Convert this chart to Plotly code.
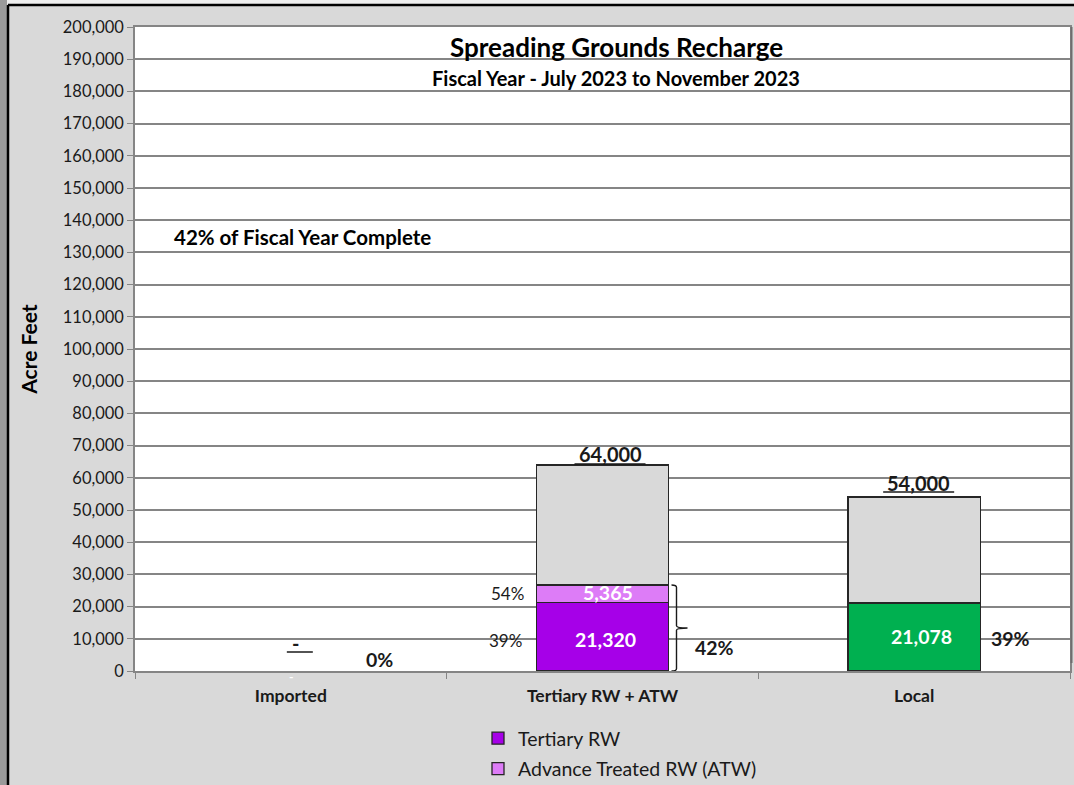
import plotly.graph_objects as go

# ---------------- data ----------------
categories = ["Imported", "Tertiary RW + ATW", "Local"]
tertiary_rw = [0, 21320, 0]
advance_treated_rw = [0, 5365, 0]
local_water = [0, 0, 21078]
fy_target = [0, 64000, 54000]
target_labels = ["-", "64,000", "54,000"]
total_pct_labels = ["0%", "42%", "39%"]
tertiary_pct_label = "39%"
atw_pct_label = "54%"
fiscal_year_note = "42% of Fiscal Year Complete"
y_ticks = list(range(0, 200001, 10000))
y_tick_labels = [f"{v:,}" for v in y_ticks]

remaining = [t - a - b - c for t, a, b, c in zip(fy_target, tertiary_rw, advance_treated_rw, local_water)]

# ---------------- geometry helpers ----------------
W, H = 1074, 785
L, R, T, B = 135, 1070, 27, 671


def px_x(p):
    return (p - L) / (R - L)


def px_y(p):
    return (B - p) / (B - T)


def nz(vals):
    return [v if v else None for v in vals]


FONT = "Lato, 'Open Sans', sans-serif"
TXT = "#1a1a1a"
OUTLINE = dict(color="#262626", width=1.3)

fig = go.Figure()
fig.add_trace(go.Bar(x=categories, y=nz(tertiary_rw), name="Tertiary RW",
                     marker=dict(color="#A600E8", line=OUTLINE), legendgroup="a"))
fig.add_trace(go.Bar(x=categories, y=nz(advance_treated_rw), name="Advance Treated RW (ATW)",
                     marker=dict(color="#DD7CF7", line=OUTLINE), legendgroup="b"))
fig.add_trace(go.Bar(x=categories, y=nz(local_water), name="Local", showlegend=False,
                     marker=dict(color="#00B050", line=OUTLINE)))
fig.add_trace(go.Bar(x=categories, y=nz(remaining), name="Remaining", showlegend=False,
                     marker=dict(color="#D9D9D9", line=OUTLINE)))

ann = []
shapes = []

# target labels with underline
tgt_style = [  # (xshift, yshift of label, underline x0, x1, underline y offset)
    (5, 28, -4, 22, 19),
    (8, 11, -28, 43, 1),
    (4, 14, -31, 40, 5),
]
for i, (cat, tgt, lab) in enumerate(zip(categories, fy_target, target_labels)):
    xs, ys, ux0, ux1, uy = tgt_style[i]
    ann.append(dict(x=cat, y=tgt, text=f"<b>{lab}</b>", showarrow=False, xshift=xs, yshift=ys,
                    font=dict(size=20, color=TXT, family=FONT), yanchor="middle"))
    shapes.append(dict(type="line", xref="x", yref="y", xsizemode="pixel", ysizemode="pixel",
                       xanchor=i, yanchor=tgt, x0=ux0, x1=ux1, y0=uy, y1=uy,
                       line=dict(color="#1a1a1a", width=1.5)))

# value labels inside bars
for i, cat in enumerate(categories):
    if tertiary_rw[i]:
        ann.append(dict(x=cat, y=tertiary_rw[i] / 2, text=f"<b>{tertiary_rw[i]:,}</b>", showarrow=False,
                        xshift=3, yshift=-3, font=dict(size=19.5, color="white", family=FONT)))
        ann.append(dict(x=cat, y=tertiary_rw[i] / 2, text=tertiary_pct_label, showarrow=False,
                        xanchor="right", xshift=-79, yshift=-4, font=dict(size=17, color=TXT, family=FONT)))
    if advance_treated_rw[i]:
        ymid = tertiary_rw[i] + advance_treated_rw[i] / 2
        ann.append(dict(x=cat, y=ymid, text=f"<b>{advance_treated_rw[i]:,}</b>", showarrow=False,
                        xshift=5, yshift=1, font=dict(size=19.5, color="white", family=FONT)))
        ann.append(dict(x=cat, y=ymid, text=atw_pct_label, showarrow=False,
                        xanchor="right", xshift=-77, yshift=0, font=dict(size=17, color=TXT, family=FONT)))
    if local_water[i]:
        ann.append(dict(x=cat, y=local_water[i] / 2, text=f"<b>{local_water[i]:,}</b>", showarrow=False,
                        xshift=7, yshift=1, font=dict(size=19.5, color="white", family=FONT)))
    if not (tertiary_rw[i] or advance_treated_rw[i] or local_water[i]):
        ann.append(dict(x=cat, y=0, text="<b>-</b>", showarrow=False, yshift=-5,
                        font=dict(size=12, color="white", family=FONT)))

# total percentage labels
pct_style = [(89, 12), (112, 24), (96, 33)]
for i, (cat, lab) in enumerate(zip(categories, total_pct_labels)):
    xs, ys = pct_style[i]
    ann.append(dict(x=cat, y=0, text=f"<b>{lab}</b>", showarrow=False, xshift=xs, yshift=ys,
                    font=dict(size=19.5, color=TXT, family=FONT)))

# curly bracket around tertiary + ATW
top = tertiary_rw[1] + advance_treated_rw[1]
mid = top / 2
d = 700
path = (f"M 69,{top} Q 74,{top} 74,{top - d} L 74,{mid + d} Q 74,{mid} 85,{mid} "
        f"Q 74,{mid} 74,{mid - d} L 74,{d} Q 74,0 69,0")
shapes.append(dict(type="path", xref="x", yref="y", xsizemode="pixel", xanchor=1, path=path,
                   line=dict(color="#1a1a1a", width=1.4)))

# titles and note
ann.append(dict(xref="paper", yref="paper", x=px_x(616), y=px_y(47), xanchor="center", yanchor="middle",
                text="<b>Spreading Grounds Recharge</b>",
                showarrow=False, font=dict(size=26, color="black", family=FONT)))
ann.append(dict(xref="paper", yref="paper", x=px_x(616), y=px_y(78), xanchor="center", yanchor="middle",
                text="<b>Fiscal Year - July 2023 to November 2023</b>",
                showarrow=False, font=dict(size=20, color="black", family=FONT)))
ann.append(dict(xref="paper", yref="paper", x=px_x(172), xanchor="left", y=px_y(237), yanchor="middle",
                text=f"<b>{fiscal_year_note}</b>",
                showarrow=False, font=dict(size=20.5, color="black", family=FONT)))

# outer frame decorations
shapes += [
    dict(type="rect", xref="paper", yref="paper", x0=px_x(0), x1=px_x(7), y0=px_y(H), y1=px_y(0),
         fillcolor="#9a9a9a", line=dict(width=0), layer="below"),
    dict(type="rect", xref="paper", yref="paper", x0=px_x(7), x1=px_x(W), y0=px_y(4), y1=px_y(0),
         fillcolor="#eeeeee", line=dict(width=0), layer="below"),
    dict(type="line", xref="paper", yref="paper", x0=px_x(8), x1=px_x(8), y0=px_y(H), y1=px_y(5),
         line=dict(color="black", width=2.5)),
    dict(type="line", xref="paper", yref="paper", x0=px_x(8), x1=px_x(W), y0=px_y(5), y1=px_y(5),
         line=dict(color="black", width=2.5)),
    dict(type="line", xref="paper", yref="paper", x0=px_x(1071.5), x1=px_x(1071.5), y0=px_y(B - 8), y1=px_y(T),
         line=dict(color="#6e6e6e", width=2)),
]

fig.update_layout(
    width=W, height=H,
    margin=dict(l=L, r=W - R, t=T, b=H - B, pad=0, autoexpand=False),
    paper_bgcolor="#D9D9D9", plot_bgcolor="white",
    barmode="stack", bargap=0.576,
    font=dict(family=FONT, color=TXT),
    showlegend=True,
    legend=dict(orientation="v", x=px_x(478), xanchor="left", y=px_y(719), yanchor="top",
                font=dict(size=19.5, color=TXT, family=FONT), bgcolor="rgba(0,0,0,0)",
                traceorder="grouped", tracegroupgap=2, itemwidth=30),
    annotations=ann, shapes=shapes,
)
fig.update_yaxes(range=[0, 200000], tickvals=y_ticks, ticktext=y_tick_labels,
                 showgrid=True, gridcolor="#858585", gridwidth=1.5,
                 showline=True, linecolor="#858585", linewidth=1.5, mirror=True,
                 ticks="outside", ticklen=6, tickcolor="#858585",
                 tickfont=dict(size=16.5, color=TXT, family=FONT),
                 title=dict(text="<b>Acre Feet</b>", font=dict(size=21, color="black", family=FONT), standoff=19),
                 zeroline=False)
fig.update_xaxes(range=[-0.5, 2.5], showline=True, linecolor="#858585", linewidth=1.5, mirror=True,
                 ticks="outside", ticklen=6, tickcolor="#858585", tickson="boundaries",
                 tickfont=dict(size=17.5, color=TXT, family=FONT), tickprefix="<b>", ticksuffix="</b>",
                 ticklabelstandoff=8, showgrid=False)

fig.write_html("out.html", config={"displayModeBar": False},
               post_script="document.body.style.margin='0';document.body.style.padding='0';")
